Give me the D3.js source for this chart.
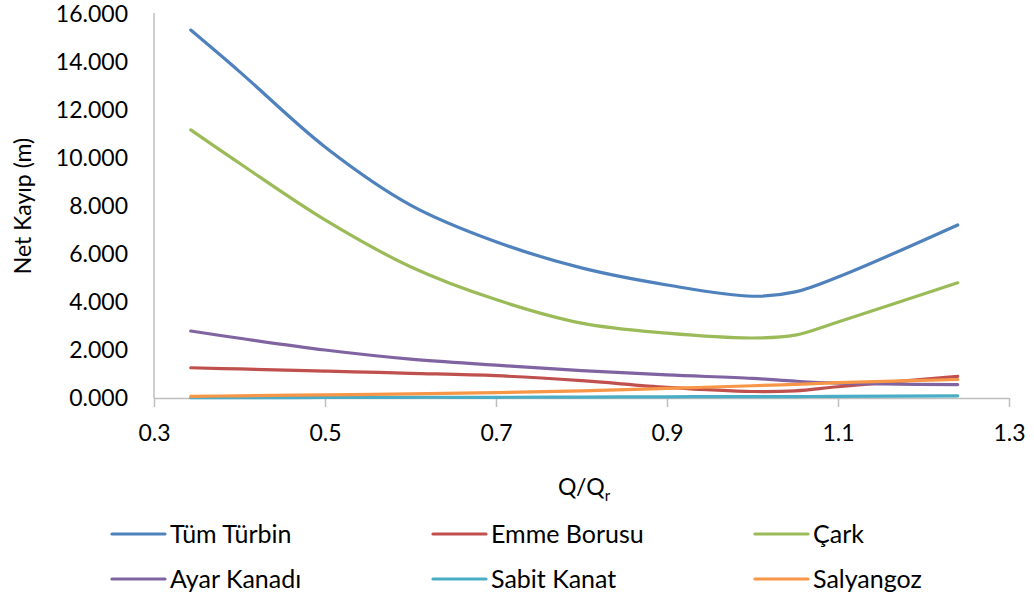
<!DOCTYPE html>
<html>
<head>
<meta charset="utf-8">
<script src="https://cdn.jsdelivr.net/npm/d3@7/dist/d3.min.js"></script>
<style>
  html, body { margin: 0; padding: 0; background: #fff; }
  svg text { font-family: Lato, "Open Sans", sans-serif; fill: #000; }
</style>
</head>
<body>
<svg id="chart" width="1034" height="601"></svg>
<script>
// ---- data ----
const qRatio      = [0.343, 0.40, 0.50, 0.60, 0.70, 0.80, 0.90, 1.00, 1.05, 1.10, 1.24];
const tumTurbin   = [15.33, 13.60, 10.46, 8.04, 6.51, 5.42, 4.71, 4.24, 4.42, 5.04, 7.21];
const emmeBorusu  = [1.26, 1.21, 1.12, 1.03, 0.93, 0.72, 0.44, 0.27, 0.30, 0.47, 0.90];
const cark        = [11.17, 9.78, 7.42, 5.47, 4.10, 3.12, 2.70, 2.50, 2.62, 3.17, 4.80];
const ayarKanadi  = [2.79, 2.49, 2.00, 1.62, 1.37, 1.14, 0.96, 0.82, 0.70, 0.62, 0.56];
const sabitKanat  = [0.01, 0.015, 0.02, 0.03, 0.03, 0.04, 0.05, 0.06, 0.06, 0.07, 0.09];
const salyangoz   = [0.07, 0.09, 0.13, 0.17, 0.22, 0.30, 0.40, 0.51, 0.57, 0.64, 0.77];

const seriesNames  = ["Tüm Türbin", "Emme Borusu", "Çark", "Ayar Kanadı", "Sabit Kanat", "Salyangoz"];
const seriesValues = [tumTurbin, emmeBorusu, cark, ayarKanadi, sabitKanat, salyangoz];
const seriesColors = ["#4F81BD", "#C0504D", "#9BBB59", "#8064A2", "#4BACC6", "#F79646"];

const xTicks = [0.3, 0.5, 0.7, 0.9, 1.1, 1.3];
const yTicks = [0, 2, 4, 6, 8, 10, 12, 14, 16];
const xTitle = "Q/Q";
const xTitleSub = "r";
const yTitle = "Net Kayıp (m)";

// ---- layout ----
const svg = d3.select("#chart");
const plotL = 154, plotR = 1009, plotT = 14, plotB = 398;
const x = d3.scaleLinear().domain([0.3, 1.3]).range([plotL, plotR]);
const y = d3.scaleLinear().domain([0, 16]).range([plotB, plotT]);
const axisColor = "#BFBFBF";
const fontSize = 23;
const legendFontSize = 25;

// y axis line
svg.append("line")
  .attr("x1", plotL).attr("x2", plotL).attr("y1", plotT - 1).attr("y2", plotB)
  .attr("stroke", axisColor).attr("stroke-width", 1.5);

// y tick labels
svg.append("g").selectAll("text").data(yTicks).join("text")
  .attr("x", plotL - 26)
  .attr("y", d => y(d))
  .attr("dy", "0.36em")
  .attr("text-anchor", "end")
  .style("font-size", fontSize + "px")
  .text(d => d3.format(".3f")(d));

// x axis
const xAxis = d3.axisBottom(x).tickValues(xTicks).tickSize(9).tickFormat(d3.format(".1f"));
const gx = svg.append("g").attr("transform", `translate(0,${plotB})`).call(xAxis);
gx.select(".domain").attr("stroke", axisColor).attr("stroke-width", 1.5)
  .attr("d", `M${plotL},0.5H${plotR}`);
gx.selectAll(".tick line").attr("stroke", axisColor).attr("stroke-width", 1.5);
gx.selectAll(".tick text")
  .attr("y", 35).attr("dy", "0.36em")
  .style("font-size", fontSize + "px")
  .style("font-family", "Lato, 'Open Sans', sans-serif")
  .attr("fill", "#000");

// lines
const line = d3.line()
  .x((d, i) => x(qRatio[i]))
  .y(d => y(d))
  .curve(d3.curveCatmullRom.alpha(0.5));

svg.append("g").selectAll("path").data(seriesValues).join("path")
  .attr("d", d => line(d))
  .attr("fill", "none")
  .attr("stroke", (d, i) => seriesColors[i])
  .attr("stroke-width", 3.2)
  .attr("stroke-linecap", "round")
  .attr("stroke-linejoin", "round");

// axis titles
const xt = svg.append("text")
  .attr("x", 584).attr("y", 495)
  .attr("text-anchor", "middle")
  .style("font-size", fontSize + "px");
xt.append("tspan").text(xTitle);
xt.append("tspan").attr("dy", 6).style("font-size", "15px").text(xTitleSub);

svg.append("text")
  .attr("transform", `translate(31,${(plotT + plotB) / 2}) rotate(-90)`)
  .attr("text-anchor", "middle")
  .style("font-size", fontSize + "px")
  .text(yTitle);

// legend
const legX = [112, 433, 755];
const legY = [534, 579];
const leg = svg.append("g").selectAll("g").data(seriesNames).join("g")
  .attr("transform", (d, i) => `translate(${legX[i % 3]},${legY[Math.floor(i / 3)]})`);
leg.append("line")
  .attr("x1", 0).attr("x2", 53).attr("y1", 0).attr("y2", 0)
  .attr("stroke", (d, i) => seriesColors[i])
  .attr("stroke-width", 3.2)
  .attr("stroke-linecap", "round");
leg.append("text")
  .attr("x", 58).attr("y", 0).attr("dy", "0.36em")
  .style("font-size", legendFontSize + "px")
  .text(d => d);
</script>
</body>
</html>
